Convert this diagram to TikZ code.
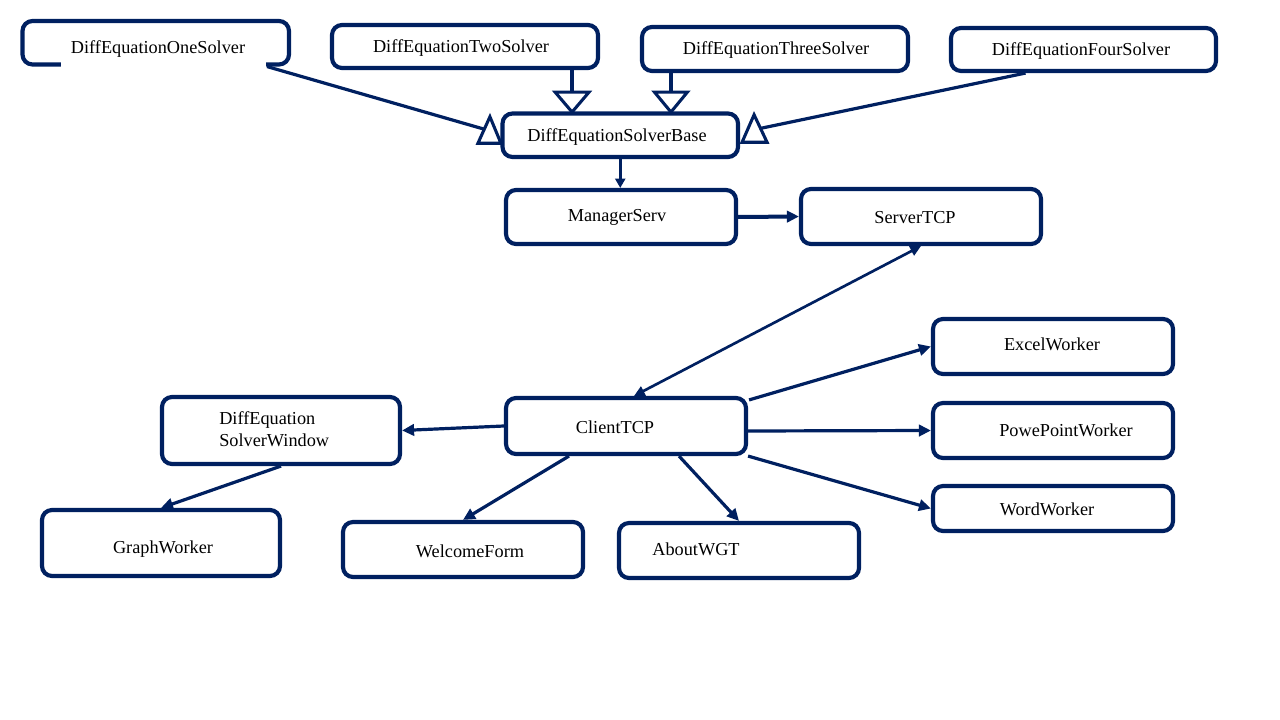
\documentclass[tikz,border=0pt]{standalone}
\usepackage{fontspec}
\setmainfont{Liberation Serif}
\usetikzlibrary{arrows.meta,fit,calc}
\definecolor{navy}{HTML}{002060}
\begin{document}
\begin{tikzpicture}[x=0.75pt,y=-0.75pt,
  box/.style={draw=navy, line width=3.1pt, rounded corners=7.5pt, inner sep=0pt},
  txt/.style={font=\fontsize{13.7}{16.5}\selectfont, inner sep=0pt, text=black},
  conn/.style={draw=navy, line width=2.4pt, -{Triangle[length=9pt,width=8.5pt]}},
  tri/.style={draw=navy, line width=2.3pt, fill=white, line join=miter},
  stem/.style={draw=navy, line width=2.4pt},
]
\useasboundingbox (0,0) rectangle (1280,720);

% boxes
\node[box, fit={(22.5,21) (289,64.5)}] (one) {};
\node[box, fit={(332,25) (598,68)}] (two) {};
\node[box, fit={(642,27) (908,71)}] (three) {};
\node[box, fit={(951,28) (1216,71)}] (four) {};
\node[box, fit={(502.5,113.5) (738,157)}] (base) {};
\node[box, fit={(506,190) (736,244)}] (manager) {};
\node[box, fit={(801,189) (1041,244)}] (server) {};
\node[box, fit={(933,319) (1173,374)}] (excel) {};
\node[box, fit={(506,398) (746,454)}] (client) {};
\node[box, fit={(933,403) (1173,458)}] (powe) {};
\node[box, fit={(933,486) (1173,531)}] (word) {};
\node[box, fit={(162,397) (400,464)}] (window) {};
\node[box, fit={(42,510) (280,576)}] (graph) {};
\node[box, fit={(343,522) (583,577)}] (welcome) {};
\node[box, fit={(619,523) (859,578)}] (about) {};

% texts
\node[txt] (one-t) at (158,49) {DiffEquationOneSolver};
\node[txt] (two-t) at (461,48) {DiffEquationTwoSolver};
\node[txt] (three-t) at (776,50) {DiffEquationThreeSolver};
\node[txt] (four-t) at (1081,51) {DiffEquationFourSolver};
\node[txt] (base-t) at (617,137) {DiffEquationSolverBase};
\node[txt] (manager-t) at (617,217) {ManagerServ};
\node[txt] (server-t) at (915,218) {ServerTCP};
\node[txt] (excel-t) at (1052,344) {ExcelWorker};
\node[txt] (client-t) at (615,427) {ClientTCP};
\node[txt] (powe-t) at (1066,430) {PowePointWorker};
\node[txt] (word-t) at (1047,509) {WordWorker};
\node[txt, anchor=west, align=left] (window-t) at (219,429) {DiffEquation\\SolverWindow};
\node[txt] (graph-t) at (163,549) {GraphWorker};
\node[txt] (welcome-t) at (470,551) {WelcomeForm};
\node[txt] (about-t) at (696,549) {AboutWGT};

% gap in the bottom border of the first box
\draw[white, line width=4.4pt] ($(one.south west)+(41,-2)$) -- ($(one.south east)+(-25,-2)$);

% inheritance connectors (hollow triangles)
\draw[stem] ($(one.south east)+(-24,0)$) -- ($(base.west)+(-16,-6)$);
\draw[tri] ($(base.west)+(-10.5,-18.5)$) -- ($(base.west)+(-22.5,8)$) -- ($(base.west)+(0.5,8)$) -- cycle;

\draw[stem] ($(four.south)+(-58,0)$) -- ($(base.east)+(21,-7)$);
\draw[tri] ($(base.east)+(14,-20.5)$) -- ($(base.east)+(2,7)$) -- ($(base.east)+(27,7)$) -- cycle;

\coordinate (t2) at ($(two.south east)+(-28,0)$);
\draw[stem] (t2) -- ($(t2)+(0,22)$);
\draw[tri] ($(t2)+(-17,22)$) -- ($(t2)+(17,22)$) -- ($(t2)+(0,42)$) -- cycle;

\coordinate (t3) at ($(three.south west)+(31,0)$);
\draw[stem] (t3) -- ($(t3)+(0,19)$);
\draw[tri] ($(t3)+(-16.5,19)$) -- ($(t3)+(16.5,19)$) -- ($(t3)+(0,39)$) -- cycle;

% association connectors
\draw[conn, -{Triangle[length=7pt,width=7.5pt]}] (base.south) -- (base.south |- manager.north);
\draw[conn, line width=3pt] (manager.east) -- (server.west);
\draw[conn, line width=2pt, {Triangle[length=8pt,width=7.5pt]}-{Triangle[length=8pt,width=7.5pt]}] (server.south) -- ($(client.north)+(8,0)$);
\draw[conn] ($(client.north east)+(1,4)$) -- (excel.west);
\draw[conn] ($(client.east)+(0,5)$) -- (powe.west);
\draw[conn] (client.south east) -- (word.west);
\draw[conn] (client.west) -- (window.east);
\draw[conn] (window.south) -- (graph.north);
\draw[conn] ($(client.south)+(-57,0)$) -- (welcome.north);
\draw[conn] ($(client.south)+(53,0)$) -- (about.north);
\end{tikzpicture}
\end{document}
